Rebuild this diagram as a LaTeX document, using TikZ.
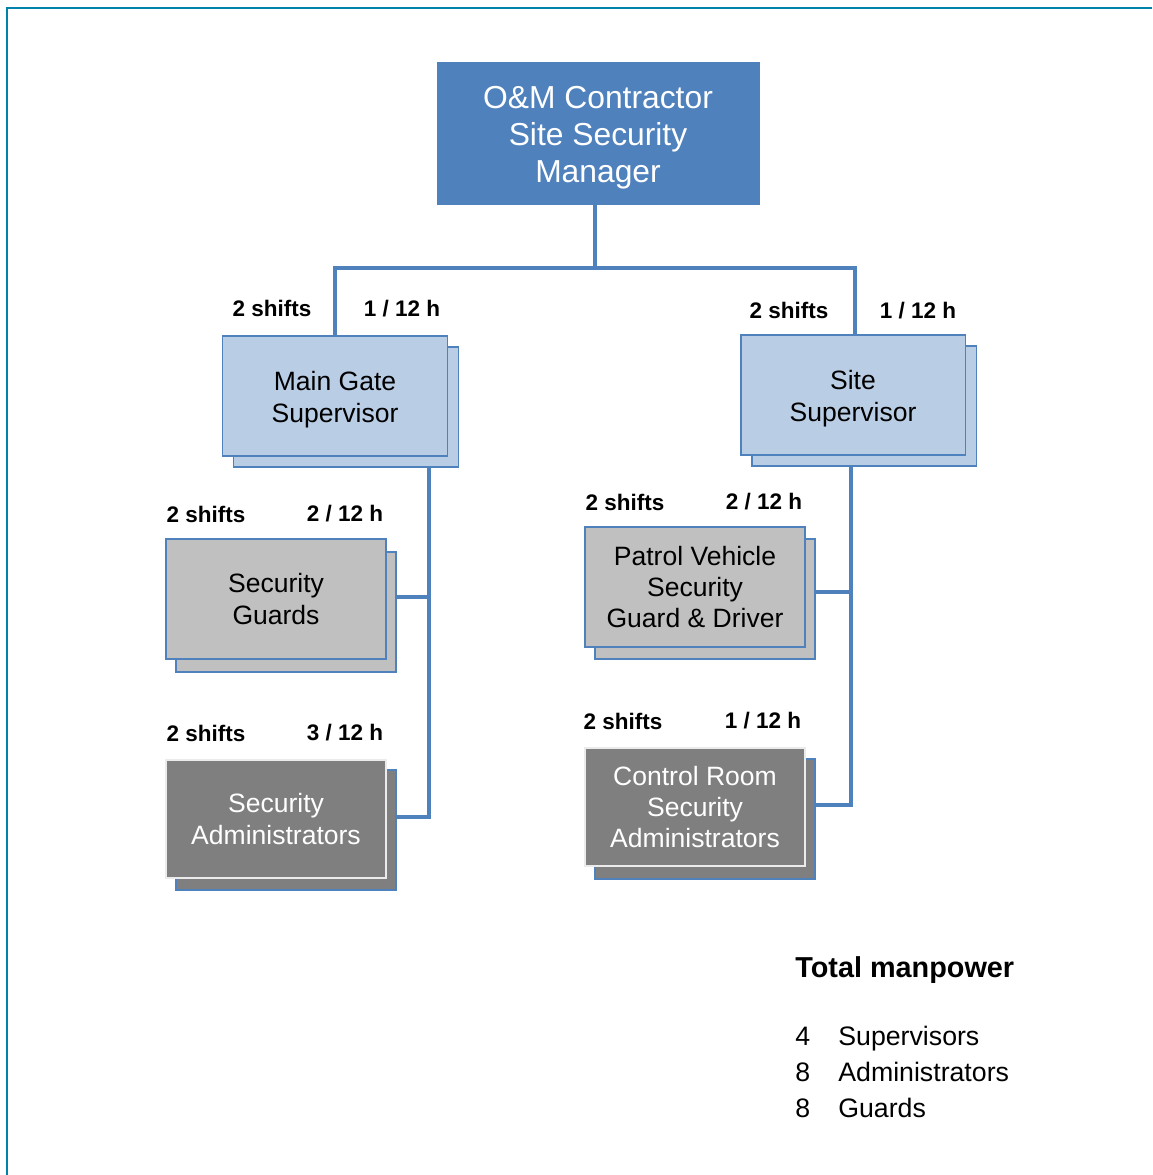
\documentclass[tikz,border=0pt]{standalone}
\usepackage{fontspec}
\setmainfont{Liberation Sans}
\usepackage{tikz}
\usepackage{xcolor}

\definecolor{mgrblue}{RGB}{79,129,189}
\definecolor{supfill}{RGB}{185,205,229}
\definecolor{guardgray}{RGB}{192,192,192}
\definecolor{admingray}{RGB}{127,127,127}
\definecolor{frameteal}{RGB}{0,130,170}

\begin{document}
\begin{tikzpicture}[x=0.02cm,y=0.02cm,
  conn/.style={mgrblue,line width=2.3pt},
  boxtxt/.style={align=center,font=\fontsize{15.1}{18}\selectfont},
  supbox/.style={draw=mgrblue,fill=supfill,line width=1.1pt,minimum width=4.5cm,minimum height=2.4cm,inner sep=0pt},
  guardbox/.style={draw=mgrblue,fill=guardgray,line width=1.1pt,minimum width=4.4cm,minimum height=2.4cm,inner sep=0pt},
  adminback/.style={draw=mgrblue,fill=admingray,line width=1.1pt,minimum width=4.4cm,minimum height=2.4cm,inner sep=0pt},
  adminbox/.style={draw=white!92!black,fill=admingray,line width=1.1pt,minimum width=4.4cm,minimum height=2.36cm,inner sep=0pt,text=white},
  shiftlbl/.style={font=\fontsize{12.8}{15}\selectfont\bfseries,inner sep=0pt},
  listtxt/.style={anchor=base west,inner sep=0pt,font=\fontsize{15.2}{18}\selectfont}]
\useasboundingbox (0,0) rectangle (1152,-1175);
\draw [frameteal,line width=0.85pt] (7,-1175) -- (7,-8) -- (1152,-8);

% top of the tree
\node [fill=mgrblue,draw=mgrblue,minimum width=6.44cm,minimum height=2.84cm,inner sep=0pt,
  text=white,align=center,font=\fontsize{18.1}{21}\selectfont] (mgr) at (598,-133)
  {\rule{0pt}{1em}O\&M Contractor\\Site Security\\Manager};

% supervisors
\node [supbox] (gateB) at (346,-407) {};
\node [supbox,boxtxt] (gate) at (335,-396) {\rule{0pt}{1em}Main Gate\\Supervisor};
\node [supbox] (siteB) at (864,-406) {};
\node [supbox,boxtxt] (site) at (853,-395) {\rule{0pt}{1em}Site\\Supervisor};

% left column
\node [guardbox] (guardsB) at (286,-612) {};
\node [guardbox,boxtxt] (guards) at (276,-599) {Security\\Guards};
\node [adminback] (adminB) at (286,-830) {};
\node [adminbox,boxtxt] (admin) at (276,-819) {Security\\Administrators};

% right column
\node [guardbox] (patrolB) at (705,-599) {};
\node [guardbox,boxtxt,font=\fontsize{15.1}{17.6}\selectfont] (patrol) at (695,-587) {Patrol Vehicle\\Security\\Guard \& Driver};
\node [adminback] (ctrlB) at (705,-819) {};
\node [adminbox,boxtxt,font=\fontsize{15.1}{17.6}\selectfont] (ctrl) at (695,-807) {Control Room\\Security\\Administrators};

% connectors
\coordinate (bus) at (595,-268);
\coordinate (lspine) at (429,-467);
\coordinate (rspine) at (851,-466);
\draw [conn] (mgr.south -| bus) -- (bus);
\draw [conn] (gate.north) |- (bus);
\draw [conn] (site.north -| 855,0) |- (bus);
\draw [conn] (lspine) -- (lspine |- 0,-817) -- (adminB.east |- 0,-817);
\draw [conn] (guardsB.east |- 0,-597) -- (lspine |- 0,-597);
\draw [conn] (rspine) -- (rspine |- 0,-805) -- (ctrlB.east |- 0,-805);
\draw [conn] (patrolB.east |- 0,-592) -- (rspine |- 0,-592);

% shifts and rates
\node [shiftlbl] (gateS) at (272,-308) {2 shifts};
\node [shiftlbl] (gateR) at (402,-309) {1 / 12 h};
\node [shiftlbl] (siteS) at (789,-310) {2 shifts};
\node [shiftlbl] (siteR) at (918,-311) {1 / 12 h};
\node [shiftlbl] (guardsS) at (206,-514) {2 shifts};
\node [shiftlbl] (guardsR) at (345,-514) {2 / 12 h};
\node [shiftlbl] (adminS) at (206,-733) {2 shifts};
\node [shiftlbl] (adminR) at (345,-733) {3 / 12 h};
\node [shiftlbl] (patrolS) at (625,-502) {2 shifts};
\node [shiftlbl] (patrolR) at (764,-502) {2 / 12 h};
\node [shiftlbl] (ctrlS) at (623,-721) {2 shifts};
\node [shiftlbl] (ctrlR) at (763,-721) {1 / 12 h};

% totals
\node [anchor=base west,inner sep=0pt,font=\fontsize{16.4}{19}\selectfont\bfseries] (total) at (795,-977) {Total manpower};
\node [listtxt] (n1) at (795,-1045) {4};
\node [listtxt] (t1) at (838,-1045) {Supervisors};
\node [listtxt] (n2) at (795,-1081) {8};
\node [listtxt] (t2) at (838,-1081) {Administrators};
\node [listtxt] (n3) at (795,-1117) {8};
\node [listtxt] (t3) at (838,-1117) {Guards};
\end{tikzpicture}
\end{document}
